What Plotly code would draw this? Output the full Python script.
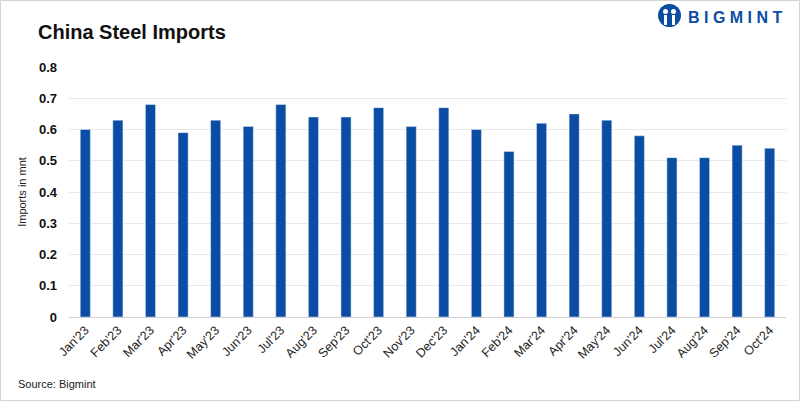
import plotly.graph_objects as go

months = ["Jan'23", "Feb'23", "Mar'23", "Apr'23", "May'23", "Jun'23", "Jul'23", "Aug'23",
          "Sep'23", "Oct'23", "Nov'23", "Dec'23", "Jan'24", "Feb'24", "Mar'24", "Apr'24",
          "May'24", "Jun'24", "Jul'24", "Aug'24", "Sep'24", "Oct'24"]
imports = [0.60, 0.63, 0.68, 0.59, 0.63, 0.61, 0.68, 0.64, 0.64, 0.67, 0.61, 0.67,
           0.60, 0.53, 0.62, 0.65, 0.63, 0.58, 0.51, 0.51, 0.55, 0.54]
y_ticks = [0, 0.1, 0.2, 0.3, 0.4, 0.5, 0.6, 0.7, 0.8]
y_labels = ["0", "0.1", "0.2", "0.3", "0.4", "0.5", "0.6", "0.7", "0.8"]

W, H = 800, 401
L, R, T, B = 69, 14, 67, 84
pw, ph = W - L - R, H - T - B

def px(x):
    return (x - L) / pw

def py(y):
    return (H - B - y) / ph

BLUE = "#0B4DA2"

fig = go.Figure(go.Bar(x=months, y=imports, marker_color=BLUE, width=0.31))

fig.update_layout(
    width=W, height=H,
    margin=dict(l=L, r=R, t=T, b=B),
    paper_bgcolor="white", plot_bgcolor="white",
    font=dict(family="Liberation Sans, Arial", color="#222"),
    showlegend=False,
    xaxis=dict(tickangle=-45, tickfont=dict(size=12.5, color="#222"), showgrid=False,
               showline=True, linecolor="#d0d0d0", linewidth=1, ticks="",
               range=[-0.5, len(months) - 0.5]),
    yaxis=dict(range=[0, 0.8], tickvals=y_ticks, ticktext=["<b>%s</b>" % s for s in y_labels],
               tickfont=dict(size=13, color="#111", family="Liberation Sans, Arial"),
               showgrid=True, gridcolor="#e8e8e8", gridwidth=1, zeroline=False,
               ticks="", ticklabelstandoff=11,
               title=dict(text="Imports in mnt", font=dict(size=11, color="#222"), standoff=10)),
    shapes=[
        dict(type="rect", xref="paper", yref="paper", x0=px(0.5), x1=px(799.5),
             y0=py(0.5), y1=py(400.5), line=dict(color="#d4d4d4", width=1), fillcolor="rgba(0,0,0,0)"),
        dict(type="circle", xref="paper", yref="paper", x0=px(658), x1=px(681),
             y0=py(4), y1=py(27), fillcolor=BLUE, line=dict(width=0)),
        dict(type="circle", xref="paper", yref="paper", x0=px(663), x1=px(668),
             y0=py(9), y1=py(14), fillcolor="white", line=dict(width=0)),
        dict(type="circle", xref="paper", yref="paper", x0=px(671), x1=px(676),
             y0=py(9), y1=py(14), fillcolor="white", line=dict(width=0)),
        dict(type="rect", xref="paper", yref="paper", x0=px(664), x1=px(667),
             y0=py(15), y1=py(25), fillcolor="white", line=dict(width=0)),
        dict(type="rect", xref="paper", yref="paper", x0=px(672), x1=px(675),
             y0=py(15), y1=py(25), fillcolor="white", line=dict(width=0)),
    ],
    annotations=[
        dict(text="<b>China Steel Imports</b>", xref="paper", yref="paper", x=px(36), y=py(32),
             xanchor="left", yanchor="middle", showarrow=False,
             font=dict(size=20, color="#111", family="Liberation Sans, Arial")),
        dict(text="<b>B I G M I N T</b>", xref="paper", yref="paper", x=px(686), y=py(17),
             xanchor="left", yanchor="middle", showarrow=False,
             font=dict(size=16, color=BLUE, family="Liberation Sans, Arial")),
        dict(text="Source: Bigmint", xref="paper", yref="paper", x=px(16), y=py(384),
             xanchor="left", yanchor="middle", showarrow=False,
             font=dict(size=11, color="#222")),
    ],
)

fig.write_html("out.html", config={"displayModeBar": False},
               post_script="document.body.style.margin='0';")
